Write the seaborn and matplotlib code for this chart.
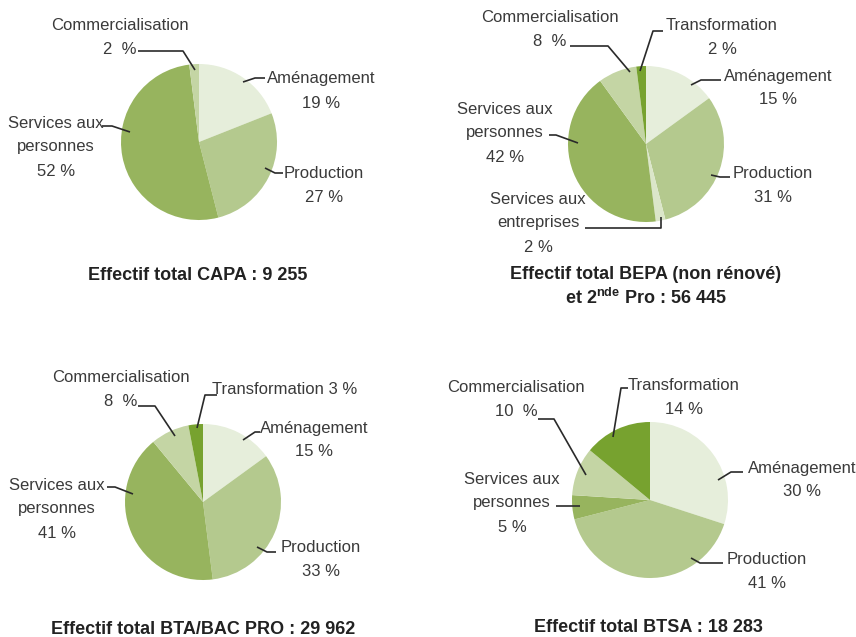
import numpy as np
import pandas as pd
import seaborn as sns
import matplotlib.pyplot as plt

# sectors, clockwise from 12 o'clock
categories = ["Aménagement", "Production", "Services aux entreprises",
              "Services aux personnes", "Commercialisation", "Transformation"]
capa = [19, 27, 0, 52, 2, 0]
bepa = [15, 31, 2, 42, 8, 2]
bac_pro = [15, 33, 0, 41, 8, 3]
btsa = [30, 41, 0, 5, 10, 14]
diplomes = ["CAPA", "BEPA", "BTA/BAC PRO", "BTSA"]
totaux = [9255, 56445, 29962, 18283]

df = pd.DataFrame({"secteur": categories, "CAPA": capa, "BEPA": bepa,
                   "BTA/BAC PRO": bac_pro, "BTSA": btsa})

sns.set_theme(style="white")
plt.rcParams["font.family"] = ["Liberation Sans", "DejaVu Sans"]
plt.rcParams["mathtext.fontset"] = "custom"
plt.rcParams["mathtext.bf"] = "Liberation Sans:bold"
plt.rcParams["mathtext.rm"] = "Liberation Sans"

palette = {"Aménagement": "#e6eedb", "Production": "#b4c98e",
           "Services aux entreprises": "#dbe6c9", "Services aux personnes": "#97b45e",
           "Commercialisation": "#c4d5a4", "Transformation": "#77a22f"}
names = {"Services aux entreprises": "Services aux\nentreprises",
         "Services aux personnes": "Services aux\npersonnes"}
txt_color = "#3a3a3a"

# layout in pixels: pie centre, title position, label centre + leader polyline
layout = {
    "CAPA": dict(center=(199, 142), title=(198, 275), labels={
        "Aménagement": ((321, 91), [(265, 78), (255, 78), (243, 82)]),
        "Production": ((324, 186), [(283, 173), (275, 173), (265, 168)]),
        "Services aux personnes": ((56, 147), [(102, 126), (112, 126), (130, 132)]),
        "Commercialisation": ((120, 37), [(138, 51), (183, 51), (195, 70)]),
    }),
    "BEPA": dict(center=(646, 144), title=(646, 287), labels={
        "Aménagement": ((778, 88), [(721, 80), (701, 80), (691, 85)]),
        "Production": ((773, 186), [(730, 177), (720, 177), (711, 175)]),
        "Services aux entreprises": ((538, 223), [(585, 228), (661, 228), (661, 217)]),
        "Services aux personnes": ((505, 133), [(549, 135), (556, 135), (578, 143)]),
        "Commercialisation": ((550, 29), [(570, 46), (608, 46), (630, 72)]),
        "Transformation": ((722, 37), [(663, 31), (653, 31), (640, 71)]),
    }),
    "BTA/BAC PRO": dict(center=(203, 502), title=(203, 629), labels={
        "Aménagement": ((314, 440), [(260, 432), (255, 432), (243, 440)]),
        "Production": ((321, 560), [(276, 552), (267, 552), (257, 547)]),
        "Services aux personnes": ((57, 509), [(107, 487), (115, 487), (133, 494)]),
        "Commercialisation": ((121, 389), [(138, 406), (155, 406), (175, 436)]),
        "Transformation": ((285, 390), [(217, 395), (205, 395), (197, 428)]),
    }),
    "BTSA": dict(center=(650, 500), title=(648, 628), labels={
        "Aménagement": ((802, 480), [(743, 472), (731, 472), (718, 480)]),
        "Production": ((767, 572), [(723, 563), (700, 563), (691, 558)]),
        "Services aux personnes": ((512, 503), [(556, 506), (580, 506)]),
        "Commercialisation": ((516, 400), [(538, 419), (554, 419), (586, 475)]),
        "Transformation": ((684, 397), [(628, 388), (621, 388), (613, 437)]),
    }),
}

fig = plt.figure(figsize=(8.56, 6.37), dpi=100)
ax = fig.add_axes([0, 0, 1, 1])

for dip, total in zip(diplomes, totaux):
    lay = layout[dip]
    vals = df[dip].values
    ax.pie(vals, colors=[palette[c] for c in categories], radius=78,
           center=lay["center"], startangle=270, counterclock=True,
           wedgeprops=dict(linewidth=0), frame=True)
    for cat, v in zip(categories, vals):
        if v == 0:
            continue
        (tx, ty), leader = lay["labels"][cat]
        name = names.get(cat, cat)
        pct = f"{v}  %" if cat == "Commercialisation" else f"{v} %"
        sep = " " if (dip == "BTA/BAC PRO" and cat == "Transformation") else "\n"
        ax.text(tx, ty, name + sep + pct, ha="center", va="center",
                multialignment="center", fontsize=12, linespacing=1.75,
                color=txt_color)
        xs, ys = zip(*leader)
        ax.plot(xs, ys, color="#2a2a2a", lw=1.2, solid_capstyle="butt")
    num = f"{total:,}".replace(",", " ")
    if dip == "BEPA":
        title = f"Effectif total BEPA (non rénové)\net 2$^{{\\mathbf{{nde}}}}$ Pro : {num}"
    else:
        title = f"Effectif total {dip} : {num}"
    ax.text(*lay["title"], title, ha="center", va="center", fontsize=13,
            fontweight="bold", linespacing=1.3, color="#222222")

ax.set_xlim(0, 856)
ax.set_ylim(637, 0)
ax.set_aspect("equal")
ax.axis("off")
fig.savefig("out.png", dpi=100, facecolor="white")
